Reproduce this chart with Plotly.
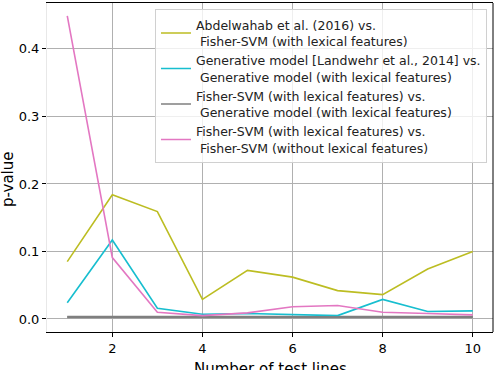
import plotly.graph_objects as go

x = [1, 2, 3, 4, 5, 6, 7, 8, 9, 10]
abdel = [0.085, 0.184, 0.159, 0.029, 0.072, 0.062, 0.042, 0.036, 0.074, 0.100]
gener = [0.024, 0.117, 0.016, 0.007, 0.008, 0.006, 0.005, 0.029, 0.011, 0.012]
fisher_gen = [0.003, 0.003, 0.003, 0.003, 0.003, 0.003, 0.003, 0.003, 0.003, 0.003]
fisher_lex = [0.449, 0.091, 0.010, 0.005, 0.009, 0.018, 0.020, 0.010, 0.008, 0.006]

names = [
    "Abdelwahab et al. (2016) vs.<br>\u00a0Fisher-SVM (with lexical features)",
    "Generative model [Landwehr et al., 2014] vs.<br>\u00a0Generative model (with lexical features)",
    "Fisher-SVM (with lexical features) vs.<br>\u00a0Generative model (with lexical features)",
    "Fisher-SVM (with lexical features) vs.<br>\u00a0Fisher-SVM (without lexical features)",
]
series = [abdel, gener, fisher_gen, fisher_lex]
colors = ["#bcbd22", "#17becf", "#7f7f7f", "#e377c2"]

fig = go.Figure()
# thicker gray band (overlapping comparison lines) drawn beneath, not in legend
fig.add_trace(go.Scatter(x=x, y=fisher_gen, mode="lines", showlegend=False,
                         hoverinfo="skip", line=dict(color="#7f7f7f", width=2.6)))
for name, ys, c in zip(names, series, colors):
    fig.add_trace(go.Scatter(x=x, y=ys, mode="lines", name=name,
                             line=dict(color=c, width=1.6)))

font = "DejaVu Sans"
fig.update_layout(
    width=496, height=370,
    margin=dict(l=47, r=3, t=3, b=38),
    paper_bgcolor="white", plot_bgcolor="white",
    font=dict(family=font, size=13, color="black"),
    showlegend=True,
    legend=dict(x=0.9865, y=0.981, xanchor="right", yanchor="top",
                bgcolor="rgba(255,255,255,0.8)", bordercolor="#d0d0d0",
                borderwidth=1, font=dict(family=font, size=12.5, color="#222"),
                tracegroupgap=0),
    xaxis=dict(range=[0.55, 10.45], tickvals=[2, 4, 6, 8, 10],
               showgrid=True, gridcolor="#b0b0b0", gridwidth=0.8,
               zeroline=False, showline=True, linecolor="black", linewidth=1,
               mirror=True, ticks="outside", ticklen=4, tickcolor="black",
               tickfont=dict(size=13), automargin=False),
    yaxis=dict(range=[-0.0193, 0.468], tickvals=[0.0, 0.1, 0.2, 0.3, 0.4],
               ticktext=["0.0", "0.1", "0.2", "0.3", "0.4"],
               showgrid=True, gridcolor="#b0b0b0", gridwidth=0.8,
               zeroline=False, showline=True, linecolor="#e8e8e8", linewidth=1,
               ticks="outside", ticklen=4, tickcolor="black",
               tickfont=dict(size=13), automargin=False),
    shapes=[dict(type="line", xref="paper", yref="paper", x0=1, x1=1, y0=0, y1=1,
                 line=dict(color="black", width=1))],
    annotations=[
        dict(text="Number of test lines", xref="paper", yref="paper", x=0.5, y=0,
             xanchor="center", yanchor="top", yshift=-26, showarrow=False,
             font=dict(size=15, family=font, color="black")),
        dict(text="p-value", xref="paper", yref="paper", x=0, y=0.465,
             xanchor="center", yanchor="middle", xshift=-39, textangle=-90,
             showarrow=False, font=dict(size=15, family=font, color="black")),
    ],
)

fig.write_html("out.html", config={"displayModeBar": False},
               post_script="document.body.style.margin='0';document.body.style.overflow='hidden';")
